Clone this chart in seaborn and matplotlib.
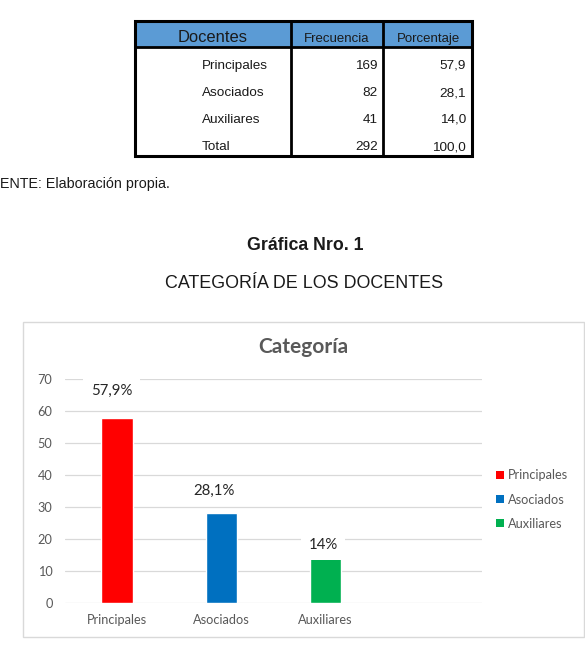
import matplotlib
matplotlib.use('Agg')
import matplotlib.pyplot as plt
import seaborn as sns
import pandas as pd
from matplotlib.patches import Rectangle, Patch

# ---------------- data ----------------
categorias = ['Principales', 'Asociados', 'Auxiliares']
frecuencias = [169, 82, 41]
porcentajes = [57.9, 28.1, 14.0]
etiquetas = ['57,9%', '28,1%', '14%']
colores = ['#FF0000', '#0070C0', '#00B050']
y_ticks = [0, 10, 20, 30, 40, 50, 60, 70]
encabezados = ['Docentes', 'Frecuencia', 'Porcentaje']

W, H = 585, 648
sns.set_theme(style='white')
plt.rcParams['font.family'] = ['Lato', 'DejaVu Sans']
ARIAL = ['Liberation Sans', 'DejaVu Sans']

fig = plt.figure(figsize=(W / 100, H / 100), dpi=100)
bg = fig.add_axes([0, 0, 1, 1])
bg.set_xlim(0, W)
bg.set_ylim(H, 0)
bg.axis('off')

# ---------------- table ----------------
L, R, T, B = 135, 472, 21, 156
HB = 47
C1, C2 = 291, 383
bg.add_patch(Rectangle((L, T), R - L, HB - T, fc='#5B9BD5', ec='none'))
for x in (C1, C2):
    bg.plot([x, x], [T, B], color='black', lw=2)
bg.plot([L, R], [HB, HB], color='black', lw=2)
bg.add_patch(Rectangle((L, T), R - L, B - T, fill=False, ec='black', lw=2.2))

bg.text(213, 37, encabezados[0], ha='center', va='center', fontsize=11.9,
        color='#1a1a1a', family=ARIAL)
bg.text(337, 39, encabezados[1], ha='center', va='center', fontsize=9.5,
        color='#1a1a1a', family=ARIAL)
bg.text(428, 39, encabezados[2], ha='center', va='center', fontsize=9.5,
        color='#1a1a1a', family=ARIAL)

filas = categorias + ['Total']
frec_f = frecuencias + [sum(frecuencias)]
porc_f = porcentajes + [sum(porcentajes)]
row_y = [66, 93, 120, 147]
for yy, nom, f, p in zip(row_y, filas, frec_f, porc_f):
    bg.text(202, yy, nom, ha='left', va='center', fontsize=9.7, color='#1a1a1a', family=ARIAL)
    bg.text(378, yy, f'{f}', ha='right', va='center', fontsize=9.7, color='#1a1a1a', family=ARIAL)
    bg.text(466, yy, f'{p:.1f}'.replace('.', ','), ha='right', va='center',
            fontsize=9.7, color='#1a1a1a', family=ARIAL)

# ---------------- captions ----------------
bg.text(0, 184, 'ENTE: Elaboración propia.', ha='left', va='center',
        fontsize=10.3, color='#1a1a1a', family=ARIAL)
bg.text(305, 245, 'Gráfica Nro. 1', ha='center', va='center', fontsize=12.8,
        fontweight='bold', color='#1a1a1a', family=ARIAL)
bg.text(304, 284, 'CATEGORÍA DE LOS DOCENTES', ha='center', va='center',
        fontsize=12.9, color='#1a1a1a', family=ARIAL)

# chart box
bg.add_patch(Rectangle((23, 322), 584 - 23, 637 - 322, fill=False,
                       ec='#D9D9D9', lw=1))

# ---------------- chart ----------------
ax = fig.add_axes([65 / W, 1 - 603 / H, (482 - 65) / W, (603 - 379) / H])
ax.patch.set_alpha(0)
df = pd.DataFrame({'Categoría': categorias, 'Porcentaje': porcentajes})
sns.barplot(data=df, x='Categoría', y='Porcentaje', hue='Categoría',
            palette=colores, width=0.3, ax=ax, saturation=1)

ax.set_xlim(-0.5, 3.5)
ax.set_ylim(0, 70)
ax.set_yticks(y_ticks)
ax.set_xlabel('')
ax.set_ylabel('')
for s in ax.spines.values():
    s.set_visible(False)
ax.yaxis.grid(True, color='#D9D9D9', lw=0.9)
ax.set_axisbelow(True)
ax.tick_params(axis='both', length=0, labelsize=9.2, labelcolor='#595959')
ax.tick_params(axis='y', pad=9)
ax.tick_params(axis='x', pad=8)

offsets_px = [(-5.5, 27), (-7, 22), (-2.5, 13)]
for i, (v, lab) in enumerate(zip(porcentajes, etiquetas)):
    dx, dy = offsets_px[i]
    ax.annotate(lab, (i, v), xytext=(dx * 0.72, dy * 0.72),
                textcoords='offset points', ha='center', va='center',
                fontsize=10.8, color='#262626',
                bbox=dict(boxstyle='square,pad=0.5', fc='white', ec='none'))

fig.text(303 / W, 1 - 347 / H, 'Categoría', ha='center', va='center',
         fontsize=15, fontweight='bold', color='#595959')

handles, labels = ax.get_legend_handles_labels()
if ax.get_legend() is not None:
    ax.get_legend().remove()
if len(handles) != len(categorias):
    handles = [Patch(fc=c, ec='none') for c in colores]
    labels = categorias
fig.legend(handles, labels, loc='center left',
           bbox_to_anchor=(496 / W, 1 - 499.5 / H), frameon=False,
           fontsize=9.2, labelcolor='#595959', handlelength=0.6,
           handleheight=0.6, handletextpad=0.35, labelspacing=0.95,
           borderpad=0, borderaxespad=0)

fig.savefig('out.png', dpi=100)
